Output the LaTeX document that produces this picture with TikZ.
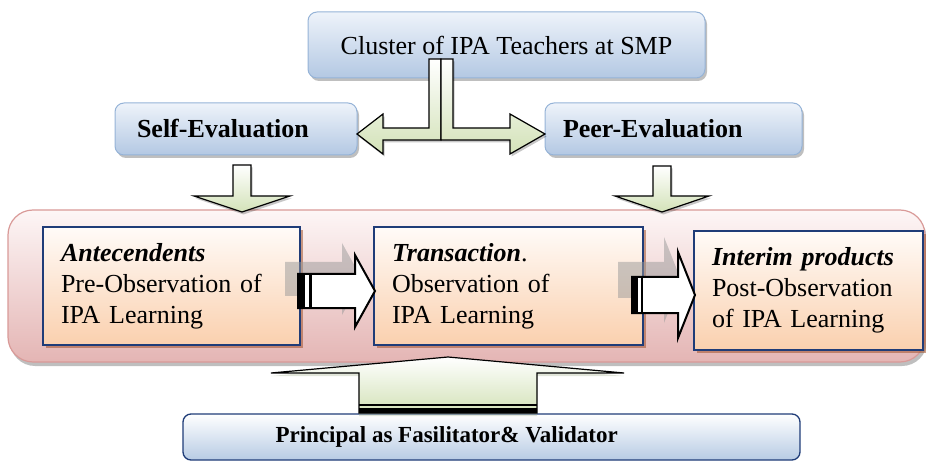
\documentclass[tikz,border=0pt]{standalone}
\usepackage{fontspec}
\setmainfont{Liberation Serif}
\usetikzlibrary{shadows}
\definecolor{bluetop}{HTML}{EEF3FA}
\definecolor{bluebot}{HTML}{B3C8E3}
\definecolor{blueborder}{HTML}{95B3D7}
\definecolor{pinktop}{HTML}{FDF6F6}
\definecolor{pinkbot}{HTML}{E4B5B4}
\definecolor{pinkborder}{HTML}{D99A98}
\definecolor{peachtop}{HTML}{FFFBF8}
\definecolor{peachbot}{HTML}{FAD0AE}
\definecolor{navy}{HTML}{1F3C78}
\definecolor{greenbot}{HTML}{D3E2B8}
\definecolor{princbot}{HTML}{B7CBE4}
\definecolor{brownshadow}{HTML}{A0522D}
\begin{document}
\begin{tikzpicture}[x=1pt,y=-1pt,
  bluebox/.style={draw=blueborder, line width=1pt, rounded corners=9pt,
    top color=bluetop, bottom color=bluebot,
    drop shadow={shadow xshift=2pt, shadow yshift=-3pt, fill=black, opacity=0.25},
    font=\fontsize{26}{31}\selectfont},
  framebox/.style={draw=pinkborder, line width=1.2pt, rounded corners=25pt,
    top color=pinktop, bottom color=pinkbot,
    drop shadow={shadow xshift=2pt, shadow yshift=-4pt, fill=black, opacity=0.25}},
  stagebox/.style={draw=navy, line width=1.3pt, top color=peachtop, bottom color=peachbot,
    drop shadow={shadow xshift=3pt, shadow yshift=-3pt, fill=brownshadow, opacity=0.55},
    font=\fontsize{26}{31}\selectfont, align=left, inner xsep=18pt, minimum height=118pt},
  princbox/.style={draw=navy, line width=1.3pt, rounded corners=8pt,
    top color=white, bottom color=princbot},
  greenarrow/.style={draw=black, line width=1.2pt, line join=miter,
    top color=white, bottom color=greenbot,
    drop shadow={shadow xshift=1.5pt, shadow yshift=-2.5pt, fill=black, opacity=0.22}},
  whitearrow/.style={draw=black, line width=2pt, line join=miter, fill=white},
  greyarrow/.style={fill=gray!80, opacity=0.5},
]
\useasboundingbox (0,0) rectangle (926,462);

% top boxes
\node[bluebox, minimum width=397pt, minimum height=66pt] (cluster) at (506.5,45) {Cluster of IPA Teachers at SMP};
\node[bluebox, minimum height=52pt, inner xsep=22pt, text width=198pt, align=left, font=\fontsize{26}{31}\selectfont\bfseries] (self) at (236,129) {Self-Evaluation};
\node[bluebox, minimum height=52pt, inner xsep=18pt, text width=221pt, align=left, font=\fontsize{26}{31}\selectfont\bfseries] (peer) at (673.5,129) {Peer-Evaluation};

% container
\node[framebox, minimum width=917pt, minimum height=152pt] (frame) at (466.5,286) {};

% stage boxes
\node[stagebox, text width=221pt] (ante) at (171.5,286) {\textbf{\textit{Antecendents}}\\Pre-Observation of\\IPA Learning};
\node[stagebox, text width=233pt] (trans) at (508.5,286) {\textbf{\textit{Transaction}}.\\Observation of\\IPA Learning};
\node[stagebox, text width=193pt, minimum height=119pt] (inter) at (808.5,290.5) {\textbf{\textit{Interim products}}\\Post-Observation\\of IPA Learning};

% principal
\node[princbox, minimum width=617pt, minimum height=46pt] (princ) at (491.5,437) {};
\node[anchor=west, inner sep=0pt, font=\fontsize{23}{28}\selectfont\bfseries] (princtext) at ([xshift=93pt]princ.west) {Principal as Fasilitator\& Validator};

% T arrow from cluster
\path[greenarrow] (429,59) -- (441,59) -- (441,140) -- (383,140) -- (383,154) -- (357,134) -- (383,114) -- (383,128) -- (429,128) -- cycle;
\path[greenarrow] (441,59) -- (453,59) -- (453,128) -- (510,128) -- (510,114) -- (545,134) -- (510,154) -- (510,140) -- (441,140) -- cycle;

% down arrows
\path[greenarrow] (233,165) -- (251,165) -- (251,196) -- (290,196) -- (242,212) -- (194,196) -- (233,196) -- cycle;
\path[greenarrow] (653,166) -- (671,166) -- (671,196) -- (709,196) -- (662,212) -- (615,196) -- (653,196) -- cycle;

% up arrow from principal
\path[draw=black, line width=1.2pt, line join=miter, top color=white, bottom color=greenbot,
  drop shadow={shadow xshift=0pt, shadow yshift=-3pt, fill=greenbot!80!black, opacity=0.35}]
  (359,413) -- (359,373) -- (271,373) -- (448,357) -- (624,373) -- (537,373) -- (537,413) -- cycle;
\fill[black] (359,408) rectangle (537,413);
\draw[black, line width=1.5pt] (359,405) -- (537,405);

% grey shadows of horizontal arrows
\begin{scope}[shift={(-13,-12)}]
\path[greyarrow] (298,274) -- (355,274) -- (355,255) -- (375,291) -- (355,327) -- (355,308) -- (298,308) -- cycle;
\end{scope}
\begin{scope}[shift={(-14,-15)}]
\path[greyarrow] (632,277) -- (678,277) -- (678,252) -- (695,295) -- (678,338) -- (678,313) -- (632,313) -- cycle;
\end{scope}

% horizontal striped arrows
\path[whitearrow] (298,274) -- (355,274) -- (355,255) -- (375,291) -- (355,327) -- (355,308) -- (298,308) -- cycle;
\fill[black] (298,274) rectangle (305,308);
\fill[black] (309,274) rectangle (312,308);
\path[whitearrow] (632,277) -- (678,277) -- (678,252) -- (695,295) -- (678,338) -- (678,313) -- (632,313) -- cycle;
\fill[black] (632,277) rectangle (638,313);
\fill[black] (641,277) rectangle (643,313);
\end{tikzpicture}
\end{document}
